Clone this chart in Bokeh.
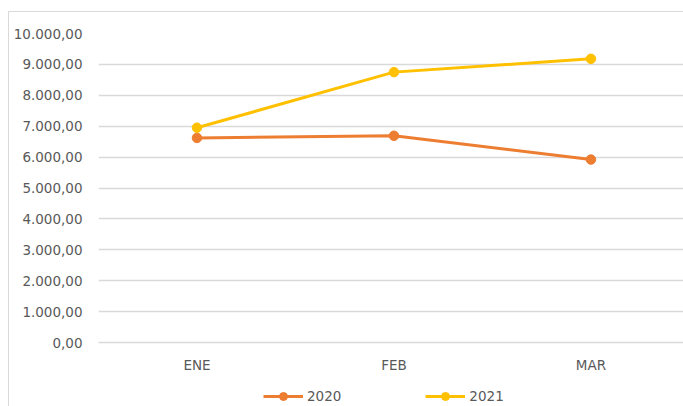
from bokeh.plotting import figure
from bokeh.layouts import column
from bokeh.models import Range1d, FixedTicker, Legend, LegendItem
from bokeh.embed import file_html
from bokeh.resources import INLINE

categories = ["ENE", "FEB", "MAR"]
series_2020 = [6620, 6690, 5920]
series_2021 = [6950, 8750, 9180]
series_names = ["2020", "2021"]
y_ticks = [0, 1000, 2000, 3000, 4000, 5000, 6000, 7000, 8000, 9000, 10000]
y_tick_labels = ["0,00", "1.000,00", "2.000,00", "3.000,00", "4.000,00", "5.000,00",
                 "6.000,00", "7.000,00", "8.000,00", "9.000,00", "10.000,00"]

FONT = "DejaVu Sans"
TXT = "#595959"
GRID = "#d9d9d9"
C2020 = "#ED7D31"
C2021 = "#FFC000"

x_pos = [i + 0.5 for i in range(len(categories))]

# main chart
p = figure(width=674, height=374, output_backend="svg", toolbar_location=None,
           x_range=Range1d(0, 2.97), y_range=Range1d(0, 10000),
           min_border_left=89, min_border_right=0, min_border_top=21, min_border_bottom=44)
p.outline_line_color = None
p.background_fill_color = "white"
p.border_fill_color = "white"

p.xgrid.grid_line_color = None
p.ygrid.grid_line_color = GRID
p.ygrid.grid_line_width = 1.3

p.yaxis.ticker = FixedTicker(ticks=y_ticks)
p.yaxis.major_label_overrides = {t: l for t, l in zip(y_ticks, y_tick_labels)}
p.xaxis.ticker = FixedTicker(ticks=x_pos)
p.xaxis.major_label_overrides = {x: c for x, c in zip(x_pos, categories)}

for ax in (p.xaxis[0], p.yaxis[0]):
    ax.major_tick_line_color = None
    ax.minor_tick_line_color = None
    ax.major_label_text_font = FONT
    ax.major_label_text_font_size = "13.5px"
    ax.major_label_text_color = TXT
p.yaxis.axis_line_color = None
p.xaxis.axis_line_color = GRID
p.xaxis.axis_line_width = 1.3
p.yaxis.major_label_standoff = 10
p.xaxis.major_label_standoff = 8

p.line(x_pos, series_2020, line_color=C2020, line_width=3)
p.scatter(x_pos, series_2020, size=9.5, fill_color=C2020, line_color=C2020)
p.line(x_pos, series_2021, line_color=C2021, line_width=3)
p.scatter(x_pos, series_2021, size=9.5, fill_color=C2021, line_color=C2021)

# legend strip below the chart (same series, drawn outside this strip's visible range)
pl = figure(width=674, height=20, output_backend="svg", toolbar_location=None,
            x_range=Range1d(0, 1), y_range=Range1d(-2, -1),
            x_axis_location=None, y_axis_location=None, min_border=0)
pl.grid.visible = False
pl.outline_line_color = None
pl.background_fill_color = "white"
pl.border_fill_color = "white"
dl1 = pl.line(x_pos, series_2020, line_color=C2020, line_width=3)
ds1 = pl.scatter(x_pos, series_2020, size=9.5, fill_color=C2020, line_color=C2020)
dl2 = pl.line(x_pos, series_2021, line_color=C2021, line_width=3)
ds2 = pl.scatter(x_pos, series_2021, size=9.5, fill_color=C2021, line_color=C2021)

legend = Legend(items=[LegendItem(label=series_names[0], renderers=[dl1, ds1]),
                       LegendItem(label=series_names[1], renderers=[dl2, ds2])],
                orientation="horizontal", location=(165, 0), spacing=84,
                glyph_width=40, glyph_height=20, label_standoff=4,
                border_line_color=None, background_fill_alpha=0,
                padding=0, margin=0,
                label_text_font=FONT, label_text_font_size="13.5px", label_text_color=TXT)
pl.add_layout(legend, "center")

layout = column(p, pl, spacing=0, margin=(11, 0, 0, 8),
                styles={"border-left": "1px solid #d9d9d9", "border-top": "1px solid #d9d9d9"})

open("out.html", "w").write(file_html(layout, INLINE))
